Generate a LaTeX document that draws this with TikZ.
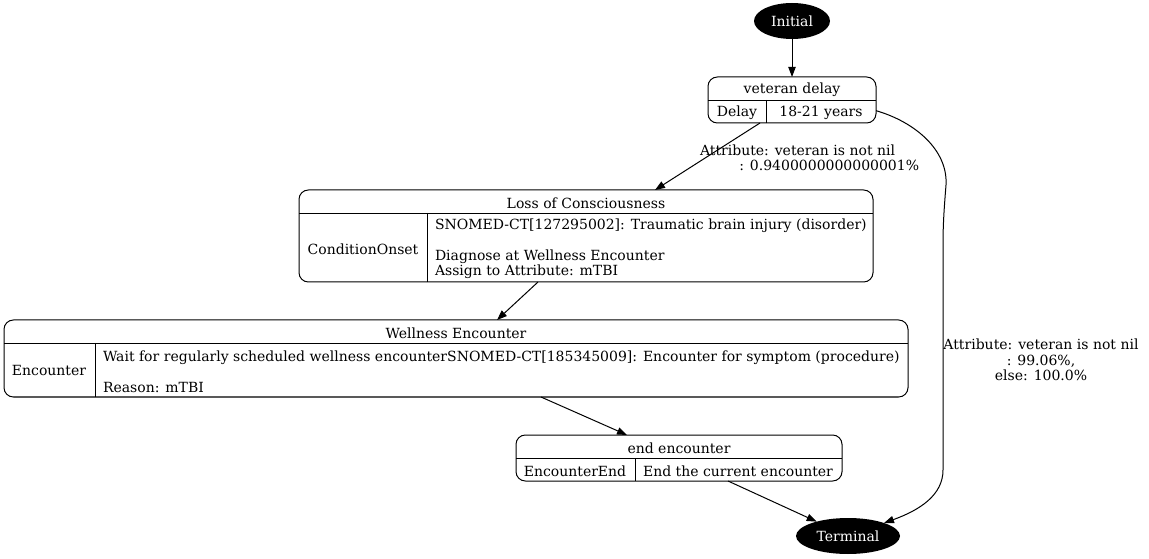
\documentclass[tikz,border=0pt]{standalone}
\usepackage{fontspec}
\setmainfont{DejaVu Serif}
\usetikzlibrary{arrows.meta,shapes.geometric,calc}
\begin{document}
\begin{tikzpicture}[x=0.75pt,y=-0.75pt,
  every node/.style={font=\fontsize{10.5}{11.6}\selectfont, inner sep=0pt, outer sep=0pt},
  box/.style={draw, rounded corners=7pt, line width=0.75pt},
  txt/.style={yshift=-1.4pt},
  term/.style={ellipse, fill=black, text=white},
  lbl/.style={align=center},
  edge/.style={-{Triangle[length=7.5pt,width=5.5pt]}, line width=0.75pt}
]
\useasboundingbox (0,0) rectangle (1149,559);

% start and end states
\node[term, minimum width=57pt, minimum height=27pt] (init) at (792,21) {Initial};
\node[term, minimum width=78pt, minimum height=27pt] (term) at (848,536) {Terminal};

% veteran delay
\node[box, minimum width=126pt, minimum height=34.5pt] (vd) at (792,100) {};
\draw (vd.west) -- (vd.east);
\draw (766,100) -- (766,123);
\node[txt] (vdT) at (792,88) {veteran delay};
\node[txt] (vdK) at (737,111) {Delay};
\node[txt] (vdV) at (821,111) {18-21 years};

% Loss of Consciousness
\node[box, minimum width=430.5pt, minimum height=69pt] (loss) at (586,236) {};
\draw (299,213) -- (873,213);
\draw (427,213) -- (427,282);
\node[txt] (lossT) at (586,201) {Loss of Consciousness};
\node[txt] (lossK) at (363,247) {ConditionOnset};
\node[txt, anchor=west, align=left] (lossV) at (435,247)
  {SNOMED-CT[127295002]: Traumatic brain injury (disorder)\\\mbox{}\\Diagnose at Wellness Encounter\\Assign to Attribute: mTBI};

% Wellness Encounter
\node[box, minimum width=678pt, minimum height=57.75pt] (well) at (456,358.5) {};
\draw (4,343) -- (908,343);
\draw (95,343) -- (95,397);
\node[txt] (wellT) at (456,331) {Wellness Encounter};
\node[txt] (wellK) at (49,369) {Encounter};
\node[txt, anchor=west, align=left] (wellV) at (103,369.5)
  {Wait for regularly scheduled wellness encounterSNOMED-CT[185345009]: Encounter for symptom (procedure)\\\mbox{}\\Reason: mTBI};

% end encounter
\node[box, minimum width=244.5pt, minimum height=34.5pt] (endenc) at (679,458) {};
\draw (endenc.west) -- (endenc.east);
\draw (635,458) -- (635,481);
\node[txt] (endT) at (679,446) {end encounter};
\node[txt] (endK) at (575,469) {EncounterEnd};
\node[txt] (endV) at (738,469) {End the current encounter};

% transitions
\draw[edge] (init) -- (vd);
\draw[edge] ([xshift=-24pt]vd.south) -- ([xshift=51.75pt]loss.north);
\node[txt, anchor=west, align=left] (l1) at (700,156) {Attribute: veteran is not nil\\\hspace*{29.5pt}: 0.9400000000000001\%};
\draw[edge] ([xshift=-36pt]loss.south) -- ([xshift=30.75pt]well.north);
\draw[edge] ([xshift=63.75pt]well.south) -- ([xshift=-39pt]endenc.north);
\draw[edge] ([xshift=36.75pt]endenc.south) -- (term);
\draw[edge] ([yshift=-8pt]vd.east) .. controls (915,122) and (948,150) .. (946,185)
  .. controls (944,210) and (943,225) .. (943,245) -- (943,470)
  .. controls (943,495) and (920,510) .. (term);
\node[txt, lbl] (l2) at (1041,358) {Attribute: veteran is not nil\\: 99.06\%,\\else: 100.0\%};
\end{tikzpicture}
\end{document}
